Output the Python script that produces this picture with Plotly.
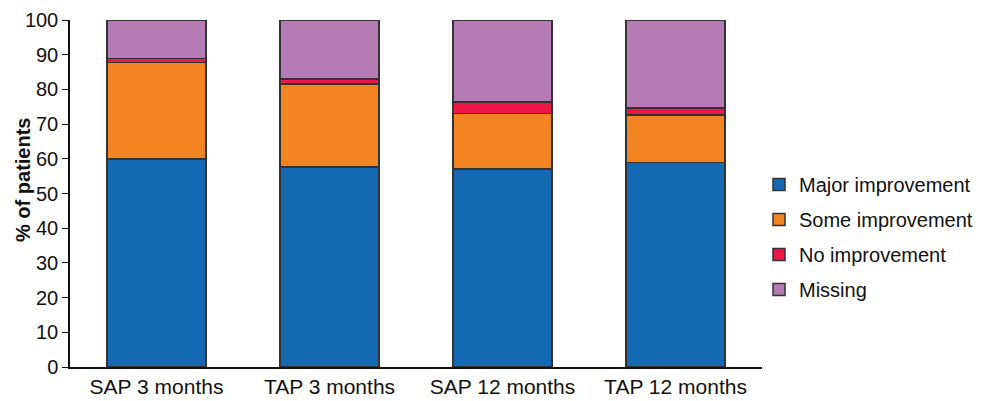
import plotly.graph_objects as go

categories = ["SAP 3 months", "TAP 3 months", "SAP 12 months", "TAP 12 months"]
major = [60.0, 57.7, 57.0, 59.0]
some = [27.8, 23.8, 16.0, 13.6]
none_ = [1.1, 1.5, 3.4, 2.0]
missing = [11.1, 17.0, 23.6, 25.4]

series_names = ["Major improvement", "Some improvement", "No improvement", "Missing"]
series_values = [major, some, none_, missing]
colors = ["#1569b3", "#f28422", "#ee1848", "#b47bb5"]

fig = go.Figure()
for name, vals, col in zip(series_names, series_values, colors):
    fig.add_trace(go.Bar(
        x=categories, y=vals, name=name, legendgroup=name,
        marker=dict(color=col, line=dict(color="#333333", width=1.5)),
    ))

font_family = "Liberation Sans, Arial, sans-serif"
PW = 982 - 70  # paper width inside margins
fig.update_layout(
    width=982, height=401,
    barmode="stack",
    bargap=0.428,
    plot_bgcolor="white", paper_bgcolor="white",
    margin=dict(l=70, r=0, t=20, b=34),
    font=dict(family=font_family, size=20, color="#111111"),
    legend=dict(
        x=(759 - 70) / PW, y=0.375, xanchor="left", yanchor="middle",
        traceorder="grouped", tracegroupgap=6,
        font=dict(size=20, family=font_family, color="#111111"),
        itemwidth=30,
    ),
    xaxis=dict(
        domain=[0, 692 / PW],
        showline=True, linecolor="#111111", linewidth=1.5,
        ticks="", tickfont=dict(size=21), showgrid=False,
        range=[-0.5, 3.5], automargin=False,
    ),
    yaxis=dict(
        range=[0, 100], dtick=10, showline=True, linecolor="#111111", linewidth=1.5,
        ticks="outside", ticklen=6, tickcolor="#111111", showgrid=False, zeroline=False,
        tickfont=dict(size=20), automargin=False,
    ),
    annotations=[dict(
        text="<b>% of patients</b>", textangle=-90, showarrow=False,
        xref="paper", yref="paper", x=(23 - 70) / PW, y=0.539,
        xanchor="center", yanchor="middle",
        font=dict(size=20, family=font_family, color="#111111"),
    )],
)

fig.write_html(
    "out.html",
    config={"displayModeBar": False},
    post_script="document.body.style.margin='0';document.body.style.overflow='hidden';",
)
